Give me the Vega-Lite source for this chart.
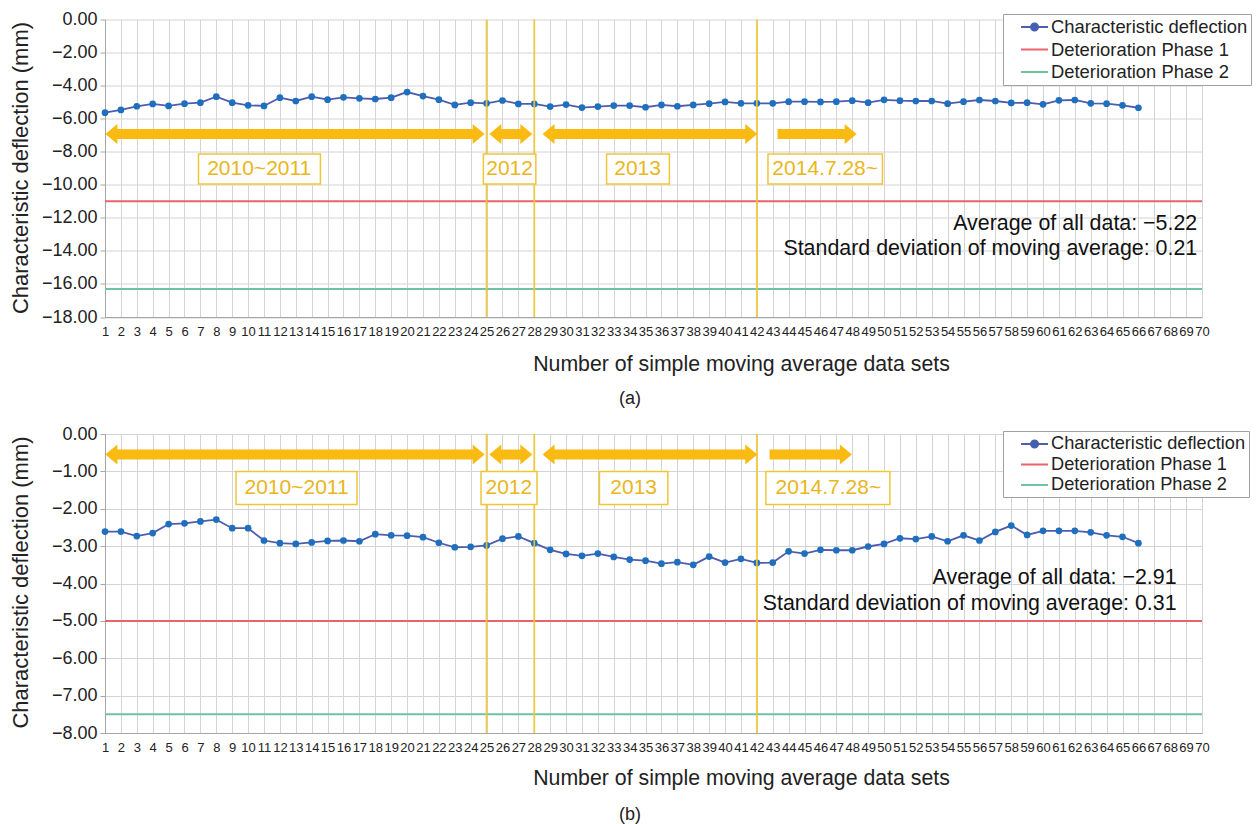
{
  "$schema": "https://vega.github.io/schema/vega-lite/v6.json",
  "padding": {"left": 9, "top": 10.5, "right": 0, "bottom": 0},
  "background": "white",
  "config": {
    "font": "Liberation Sans",
    "view": {"stroke": null},
    "axis": {"gridColor": "#D4D4D4", "gridWidth": 1, "domainColor": "#A6A6A6", "tickColor": "#A6A6A6", "labelColor": "#222222", "titleColor": "#222222", "titleFontWeight": "normal"}
  },
  "resolve": {"scale": {"color": "independent", "shape": "independent"}, "legend": {"color": "independent"}},
  "spacing": 16.5,
  "datasets": {
    "a": [
      {"n": 1, "v": -5.64}, {"n": 2, "v": -5.47}, {"n": 3, "v": -5.25}, {"n": 4, "v": -5.11}, {"n": 5, "v": -5.23},
      {"n": 6, "v": -5.09}, {"n": 7, "v": -5.03}, {"n": 8, "v": -4.67}, {"n": 9, "v": -5.03}, {"n": 10, "v": -5.19},
      {"n": 11, "v": -5.23}, {"n": 12, "v": -4.73}, {"n": 13, "v": -4.93}, {"n": 14, "v": -4.67}, {"n": 15, "v": -4.85},
      {"n": 16, "v": -4.71}, {"n": 17, "v": -4.77}, {"n": 18, "v": -4.81}, {"n": 19, "v": -4.73}, {"n": 20, "v": -4.39},
      {"n": 21, "v": -4.63}, {"n": 22, "v": -4.85}, {"n": 23, "v": -5.17}, {"n": 24, "v": -5.03}, {"n": 25, "v": -5.07},
      {"n": 26, "v": -4.9}, {"n": 27, "v": -5.11}, {"n": 28, "v": -5.11}, {"n": 29, "v": -5.27}, {"n": 30, "v": -5.15},
      {"n": 31, "v": -5.33}, {"n": 32, "v": -5.27}, {"n": 33, "v": -5.21}, {"n": 34, "v": -5.21}, {"n": 35, "v": -5.31},
      {"n": 36, "v": -5.17}, {"n": 37, "v": -5.25}, {"n": 38, "v": -5.17}, {"n": 39, "v": -5.09}, {"n": 40, "v": -4.99},
      {"n": 41, "v": -5.07}, {"n": 42, "v": -5.07}, {"n": 43, "v": -5.07}, {"n": 44, "v": -4.97}, {"n": 45, "v": -4.97},
      {"n": 46, "v": -4.99}, {"n": 47, "v": -4.97}, {"n": 48, "v": -4.91}, {"n": 49, "v": -5.03}, {"n": 50, "v": -4.86},
      {"n": 51, "v": -4.91}, {"n": 52, "v": -4.93}, {"n": 53, "v": -4.93}, {"n": 54, "v": -5.09}, {"n": 55, "v": -4.97},
      {"n": 56, "v": -4.87}, {"n": 57, "v": -4.93}, {"n": 58, "v": -5.05}, {"n": 59, "v": -5.03}, {"n": 60, "v": -5.13},
      {"n": 61, "v": -4.89}, {"n": 62, "v": -4.87}, {"n": 63, "v": -5.07}, {"n": 64, "v": -5.09}, {"n": 65, "v": -5.19},
      {"n": 66, "v": -5.34}
    ],
    "b": [
      {"n": 1, "v": -2.61}, {"n": 2, "v": -2.61}, {"n": 3, "v": -2.73}, {"n": 4, "v": -2.65}, {"n": 5, "v": -2.41},
      {"n": 6, "v": -2.39}, {"n": 7, "v": -2.34}, {"n": 8, "v": -2.29}, {"n": 9, "v": -2.52}, {"n": 10, "v": -2.52},
      {"n": 11, "v": -2.85}, {"n": 12, "v": -2.92}, {"n": 13, "v": -2.94}, {"n": 14, "v": -2.9}, {"n": 15, "v": -2.86},
      {"n": 16, "v": -2.85}, {"n": 17, "v": -2.87}, {"n": 18, "v": -2.68}, {"n": 19, "v": -2.71}, {"n": 20, "v": -2.72},
      {"n": 21, "v": -2.76}, {"n": 22, "v": -2.91}, {"n": 23, "v": -3.03}, {"n": 24, "v": -3.02}, {"n": 25, "v": -2.98},
      {"n": 26, "v": -2.8}, {"n": 27, "v": -2.74}, {"n": 28, "v": -2.92}, {"n": 29, "v": -3.1}, {"n": 30, "v": -3.21},
      {"n": 31, "v": -3.26}, {"n": 32, "v": -3.2}, {"n": 33, "v": -3.29}, {"n": 34, "v": -3.36}, {"n": 35, "v": -3.39},
      {"n": 36, "v": -3.47}, {"n": 37, "v": -3.43}, {"n": 38, "v": -3.5}, {"n": 39, "v": -3.28}, {"n": 40, "v": -3.44},
      {"n": 41, "v": -3.34}, {"n": 42, "v": -3.45}, {"n": 43, "v": -3.44}, {"n": 44, "v": -3.14}, {"n": 45, "v": -3.2},
      {"n": 46, "v": -3.1}, {"n": 47, "v": -3.11}, {"n": 48, "v": -3.11}, {"n": 49, "v": -3.01}, {"n": 50, "v": -2.94},
      {"n": 51, "v": -2.79}, {"n": 52, "v": -2.81}, {"n": 53, "v": -2.74}, {"n": 54, "v": -2.87}, {"n": 55, "v": -2.71},
      {"n": 56, "v": -2.85}, {"n": 57, "v": -2.62}, {"n": 58, "v": -2.45}, {"n": 59, "v": -2.7}, {"n": 60, "v": -2.59},
      {"n": 61, "v": -2.59}, {"n": 62, "v": -2.59}, {"n": 63, "v": -2.63}, {"n": 64, "v": -2.71}, {"n": 65, "v": -2.75},
      {"n": 66, "v": -2.92}
    ],
    "thrA": [{"v": -11.0, "series": "Deterioration Phase 1"}, {"v": -16.3, "series": "Deterioration Phase 2"}],
    "thrB": [{"v": -5.0, "series": "Deterioration Phase 1"}, {"v": -7.5, "series": "Deterioration Phase 2"}],
    "vlines": [{"x": 25}, {"x": 28}, {"x": 42}],
    "arrowsA": [
      {"x1": 1.4, "x2": 24.5, "y": -6.93}, {"x1": 25.55, "x2": 27.5, "y": -6.93},
      {"x1": 28.9, "x2": 41.65, "y": -6.93}, {"x1": 43.3, "x2": 47.9, "y": -6.93}
    ],
    "headsA": [
      {"x": 1.4, "y": -6.93, "dir": "left"}, {"x": 24.5, "y": -6.93, "dir": "right"},
      {"x": 25.55, "y": -6.93, "dir": "left"}, {"x": 27.5, "y": -6.93, "dir": "right"},
      {"x": 28.9, "y": -6.93, "dir": "left"}, {"x": 41.65, "y": -6.93, "dir": "right"},
      {"x": 47.9, "y": -6.93, "dir": "right"}
    ],
    "arrowsB": [
      {"x1": 1.4, "x2": 24.5, "y": -0.55}, {"x1": 25.55, "x2": 27.5, "y": -0.55},
      {"x1": 28.9, "x2": 41.65, "y": -0.55}, {"x1": 42.8, "x2": 47.6, "y": -0.55}
    ],
    "headsB": [
      {"x": 1.4, "y": -0.55, "dir": "left"}, {"x": 24.5, "y": -0.55, "dir": "right"},
      {"x": 25.55, "y": -0.55, "dir": "left"}, {"x": 27.5, "y": -0.55, "dir": "right"},
      {"x": 28.9, "y": -0.55, "dir": "left"}, {"x": 41.65, "y": -0.55, "dir": "right"},
      {"x": 47.6, "y": -0.55, "dir": "right"}
    ],
    "boxesA": [
      {"x1": 6.88, "x2": 14.55, "y1": -8.14, "y2": -9.95, "xc": 10.7, "yc": -9.05, "label": "2010~2011"},
      {"x1": 24.8, "x2": 28.1, "y1": -8.14, "y2": -9.95, "xc": 26.45, "yc": -9.05, "label": "2012"},
      {"x1": 32.55, "x2": 36.5, "y1": -8.14, "y2": -9.95, "xc": 34.5, "yc": -9.05, "label": "2013"},
      {"x1": 42.7, "x2": 49.9, "y1": -8.14, "y2": -9.95, "xc": 46.3, "yc": -9.05, "label": "2014.7.28~"}
    ],
    "boxesB": [
      {"x1": 9.24, "x2": 16.85, "y1": -1.0, "y2": -1.885, "xc": 13.05, "yc": -1.44, "label": "2010~2011"},
      {"x1": 24.65, "x2": 28.17, "y1": -1.0, "y2": -1.885, "xc": 26.4, "yc": -1.44, "label": "2012"},
      {"x1": 32.1, "x2": 36.4, "y1": -1.0, "y2": -1.885, "xc": 34.25, "yc": -1.44, "label": "2013"},
      {"x1": 42.57, "x2": 50.37, "y1": -1.0, "y2": -1.885, "xc": 46.5, "yc": -1.44, "label": "2014.7.28~"}
    ],
    "statsA": [
      {"x": 69.7, "y": -12.37, "t": "Average of all data: −5.22"},
      {"x": 69.7, "y": -13.88, "t": "Standard deviation of moving average: 0.21"}
    ],
    "statsB": [
      {"x": 68.4, "y": -3.86, "t": "Average of all data: −2.91"},
      {"x": 68.4, "y": -4.56, "t": "Standard deviation of moving average: 0.31"}
    ]
  },
  "vconcat": [
    {
      "width": 1097,
      "height": 297.5,
      "title": {"text": "(a)", "orient": "bottom", "offset": 16, "dx": -23.5, "fontSize": 18, "fontWeight": "normal", "color": "#222222"},
      "layer": [
        {
          "data": {"name": "thrA"},
          "mark": {"type": "rule", "strokeWidth": 2},
          "encoding": {
            "y": {"field": "v", "type": "quantitative", "scale": {"domain": [-18, 0], "nice": false, "zero": false},
              "axis": {"values": [0, -2, -4, -6, -8, -10, -12, -14, -16, -18], "tickCount": 10, "format": ".2f", "labelFontSize": 18, "tickSize": 5, "labelPadding": 3,
                "title": "Characteristic deflection (mm)", "titleFontSize": 22, "titleX": -85, "titleY": 148, "titleBaseline": "middle", "titleAngle": -90}},
            "color": {"field": "series", "type": "nominal",
              "scale": {"domain": ["Characteristic deflection", "Deterioration Phase 1", "Deterioration Phase 2"], "range": ["#4F5CAE", "#E8636A", "#6FC3A0"]},
              "legend": {"orient": "none", "legendX": 898, "legendY": -5.5, "direction": "vertical", "title": null,
                "fillColor": "white", "strokeColor": "#A0A0A0", "padding": 3, "labelFontSize": 18.4, "labelLimit": 400, "labelColor": "#222222",
                "symbolType": "stroke", "symbolSize": 324, "symbolStrokeWidth": 2, "rowPadding": 2.5, "labelOffset": 25,
                "encode": {"symbols": {"update": {
                  "shape": {"signal": "datum.value === 'Characteristic deflection' ? 'M0.56,0H3.56M1.67,0A0.39,0.39,0,1,1,2.45,0A0.39,0.39,0,1,1,1.67,0Z' : 'M0.56,0H3.56'"},
                  "fill": {"signal": "datum.value === 'Characteristic deflection' ? '#1F6FBF' : 'transparent'"}
                }}}}
            }
          }
        },
        {
          "data": {"name": "a"},
          "mark": {"type": "line", "color": "#4F5CAE", "strokeWidth": 1.8},
          "encoding": {
            "x": {"field": "n", "type": "quantitative", "scale": {"domain": [1, 70], "nice": false, "zero": false},
              "axis": {"values": [1,2,3,4,5,6,7,8,9,10,11,12,13,14,15,16,17,18,19,20,21,22,23,24,25,26,27,28,29,30,31,32,33,34,35,36,37,38,39,40,41,42,43,44,45,46,47,48,49,50,51,52,53,54,55,56,57,58,59,60,61,62,63,64,65,66,67,68,69,70],
                "tickCount": 70, "format": "d", "labelFontSize": 13, "labelOverlap": false, "labelFlush": false, "labelBound": false, "tickSize": 0, "labelPadding": 8,
                "title": "Number of simple moving average data sets", "titleFontSize": 21.3, "titleX": 636, "titlePadding": 15}},
            "y": {"field": "v", "type": "quantitative"}
          }
        },
        {
          "data": {"name": "a"},
          "mark": {"type": "point", "filled": true, "size": 45, "color": "#1F6FBF", "opacity": 1},
          "encoding": {
            "x": {"field": "n", "type": "quantitative"},
            "y": {"field": "v", "type": "quantitative"}
          }
        },
        {
          "data": {"name": "vlines"},
          "mark": {"type": "rule", "color": "#F3C530", "strokeWidth": 1.8, "opacity": 0.9},
          "encoding": {"x": {"field": "x", "type": "quantitative"}}
        },
        {
          "data": {"name": "arrowsA"},
          "mark": {"type": "rule", "color": "#F9BA12", "strokeWidth": 10, "strokeCap": "butt"},
          "encoding": {"x": {"field": "x1", "type": "quantitative"}, "x2": {"field": "x2"}, "y": {"field": "y", "type": "quantitative"}}
        },
        {
          "data": {"name": "headsA"},
          "mark": {"type": "point", "filled": true, "size": 400, "color": "#F9BA12", "opacity": 1},
          "encoding": {
            "x": {"field": "x", "type": "quantitative"}, "y": {"field": "y", "type": "quantitative"},
            "shape": {"field": "dir", "type": "nominal", "scale": {"domain": ["left", "right"], "range": ["M0.6,-1L-0.6,0L0.6,1Z", "M-0.6,-1L0.6,0L-0.6,1Z"]}, "legend": null}
          }
        },
        {
          "data": {"name": "boxesA"},
          "mark": {"type": "rect", "fill": "white", "stroke": "#F0C53A", "strokeWidth": 1.5},
          "encoding": {"x": {"field": "x1", "type": "quantitative"}, "x2": {"field": "x2"}, "y": {"field": "y1", "type": "quantitative"}, "y2": {"field": "y2"}}
        },
        {
          "data": {"name": "boxesA"},
          "mark": {"type": "text", "fontSize": 21, "color": "#E9B61C", "align": "center", "baseline": "middle"},
          "encoding": {"x": {"field": "xc", "type": "quantitative"}, "y": {"field": "yc", "type": "quantitative"}, "text": {"field": "label"}}
        },
        {
          "data": {"name": "statsA"},
          "mark": {"type": "text", "fontSize": 21.4, "color": "#111111", "align": "right", "baseline": "middle"},
          "encoding": {"x": {"field": "x", "type": "quantitative"}, "y": {"field": "y", "type": "quantitative"}, "text": {"field": "t"}}
        }
      ]
    },
    {
      "width": 1097,
      "height": 299,
      "title": {"text": "(b)", "orient": "bottom", "offset": 18, "dx": -23.5, "fontSize": 18, "fontWeight": "normal", "color": "#222222"},
      "layer": [
        {
          "data": {"name": "thrB"},
          "mark": {"type": "rule", "strokeWidth": 2},
          "encoding": {
            "y": {"field": "v", "type": "quantitative", "scale": {"domain": [-8, 0], "nice": false, "zero": false},
              "axis": {"values": [0, -1, -2, -3, -4, -5, -6, -7, -8], "tickCount": 9, "format": ".2f", "labelFontSize": 18, "tickSize": 5, "labelPadding": 3,
                "title": "Characteristic deflection (mm)", "titleFontSize": 22, "titleX": -85, "titleY": 148, "titleBaseline": "middle", "titleAngle": -90}},
            "color": {"field": "series", "type": "nominal",
              "scale": {"domain": ["Characteristic deflection", "Deterioration Phase 1", "Deterioration Phase 2"], "range": ["#4F5CAE", "#E8636A", "#6FC3A0"]},
              "legend": {"orient": "none", "legendX": 898, "legendY": -3, "direction": "vertical", "title": null,
                "fillColor": "white", "strokeColor": "#A0A0A0", "padding": 3, "labelFontSize": 18.2, "labelLimit": 400, "labelColor": "#222222",
                "symbolType": "stroke", "symbolSize": 324, "symbolStrokeWidth": 2, "rowPadding": 1.5, "labelOffset": 25,
                "encode": {"symbols": {"update": {
                  "shape": {"signal": "datum.value === 'Characteristic deflection' ? 'M0.56,0H3.56M1.67,0A0.39,0.39,0,1,1,2.45,0A0.39,0.39,0,1,1,1.67,0Z' : 'M0.56,0H3.56'"},
                  "fill": {"signal": "datum.value === 'Characteristic deflection' ? '#1F6FBF' : 'transparent'"}
                }}}}
            }
          }
        },
        {
          "data": {"name": "b"},
          "mark": {"type": "line", "color": "#4F5CAE", "strokeWidth": 1.8},
          "encoding": {
            "x": {"field": "n", "type": "quantitative", "scale": {"domain": [1, 70], "nice": false, "zero": false},
              "axis": {"values": [1,2,3,4,5,6,7,8,9,10,11,12,13,14,15,16,17,18,19,20,21,22,23,24,25,26,27,28,29,30,31,32,33,34,35,36,37,38,39,40,41,42,43,44,45,46,47,48,49,50,51,52,53,54,55,56,57,58,59,60,61,62,63,64,65,66,67,68,69,70],
                "tickCount": 70, "format": "d", "labelFontSize": 13, "labelOverlap": false, "labelFlush": false, "labelBound": false, "tickSize": 0, "labelPadding": 8,
                "title": "Number of simple moving average data sets", "titleFontSize": 21.3, "titleX": 636, "titlePadding": 13}},
            "y": {"field": "v", "type": "quantitative"}
          }
        },
        {
          "data": {"name": "b"},
          "mark": {"type": "point", "filled": true, "size": 45, "color": "#1F6FBF", "opacity": 1},
          "encoding": {
            "x": {"field": "n", "type": "quantitative"},
            "y": {"field": "v", "type": "quantitative"}
          }
        },
        {
          "data": {"name": "vlines"},
          "mark": {"type": "rule", "color": "#F3C530", "strokeWidth": 1.8, "opacity": 0.9},
          "encoding": {"x": {"field": "x", "type": "quantitative"}}
        },
        {
          "data": {"name": "arrowsB"},
          "mark": {"type": "rule", "color": "#F9BA12", "strokeWidth": 10, "strokeCap": "butt"},
          "encoding": {"x": {"field": "x1", "type": "quantitative"}, "x2": {"field": "x2"}, "y": {"field": "y", "type": "quantitative"}}
        },
        {
          "data": {"name": "headsB"},
          "mark": {"type": "point", "filled": true, "size": 400, "color": "#F9BA12", "opacity": 1},
          "encoding": {
            "x": {"field": "x", "type": "quantitative"}, "y": {"field": "y", "type": "quantitative"},
            "shape": {"field": "dir", "type": "nominal", "scale": {"domain": ["left", "right"], "range": ["M0.6,-1L-0.6,0L0.6,1Z", "M-0.6,-1L0.6,0L-0.6,1Z"]}, "legend": null}
          }
        },
        {
          "data": {"name": "boxesB"},
          "mark": {"type": "rect", "fill": "white", "stroke": "#F0C53A", "strokeWidth": 1.5},
          "encoding": {"x": {"field": "x1", "type": "quantitative"}, "x2": {"field": "x2"}, "y": {"field": "y1", "type": "quantitative"}, "y2": {"field": "y2"}}
        },
        {
          "data": {"name": "boxesB"},
          "mark": {"type": "text", "fontSize": 21, "color": "#E9B61C", "align": "center", "baseline": "middle"},
          "encoding": {"x": {"field": "xc", "type": "quantitative"}, "y": {"field": "yc", "type": "quantitative"}, "text": {"field": "label"}}
        },
        {
          "data": {"name": "statsB"},
          "mark": {"type": "text", "fontSize": 21.4, "color": "#111111", "align": "right", "baseline": "middle"},
          "encoding": {"x": {"field": "x", "type": "quantitative"}, "y": {"field": "y", "type": "quantitative"}, "text": {"field": "t"}}
        }
      ]
    }
  ]
}
